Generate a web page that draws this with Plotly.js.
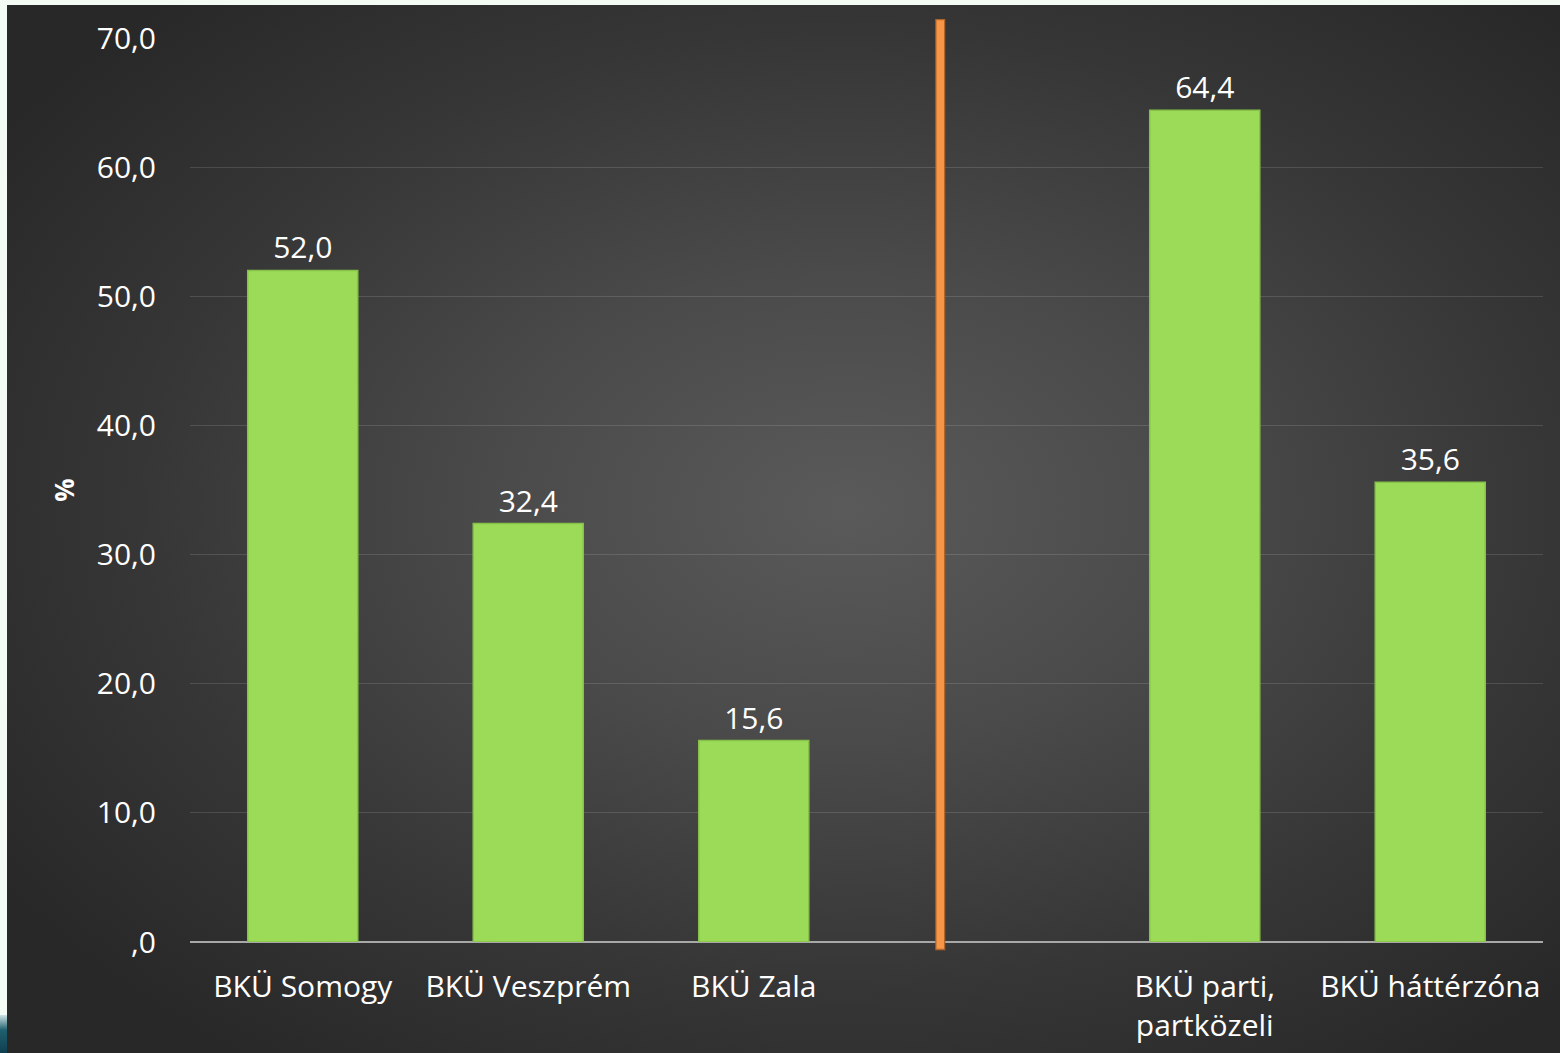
<!DOCTYPE html>
<html>
<head>
<meta charset="utf-8">
<script src="https://cdn.plot.ly/plotly-3.0.1.min.js"></script>
<style>
  html, body { margin:0; padding:0; width:1560px; height:1053px; overflow:hidden; background:#f4faf4; }
  #bg { position:absolute; left:7px; top:5px; width:1553px; height:1048px;
        background: radial-gradient(ellipse 65% 65% at 54% 48%, #5a5a5a 0%, #4a4a4a 35%, #363636 70%, #282828 100%); }
  #teal { position:absolute; left:0; top:1015px; width:7px; height:38px;
          background: linear-gradient(#cfe3e3, #1f5f6f 40%, #0f3f4f); }
  #chart { position:absolute; left:0; top:0; width:1560px; height:1053px; }
</style>
</head>
<body>
<div id="bg"></div>
<div id="teal"></div>
<div id="chart"></div>
<script>
const categories = ["BKÜ Somogy", "BKÜ Veszprém", "BKÜ Zala", " ", "BKÜ parti,<br>partközeli", "BKÜ háttérzóna"];
const values = [52.0, 32.4, 15.6, null, 64.4, 35.6];
const yTickValues = [0, 10, 20, 30, 40, 50, 60, 70];
const yTickLabels = [",0", "10,0", "20,0", "30,0", "40,0", "50,0", "60,0", "70,0"];
const yAxisTitle = "%";

const font = "'Open Sans', 'Noto Sans', sans-serif";

const trace = {
  type: 'bar',
  x: categories,
  y: values,
  marker: { color: '#9cdb58', line: { color: '#86c24a', width: 1.5 } },
  text: values.map(v => v === null ? '' : v.toFixed(1).replace('.', ',')),
  textposition: 'outside',
  textfont: { family: font, size: 30, color: '#ffffff' },
  cliponaxis: false,
  hoverinfo: 'skip'
};

const layout = {
  width: 1560, height: 1053,
  margin: { l: 190, r: 17, t: 38, b: 111 },
  paper_bgcolor: 'rgba(0,0,0,0)',
  plot_bgcolor: 'rgba(0,0,0,0)',
  bargap: 0.512,
  showlegend: false,
  font: { family: font, color: '#ffffff' },
  xaxis: {
    type: 'category',
    range: [-0.5, 5.5],
    showgrid: false,
    showline: false,
    zeroline: false,
    ticks: '',
    ticklabelstandoff: 24,
    tickfont: { family: font, size: 30, color: '#ffffff' },
    automargin: false
  },
  yaxis: {
    range: [0, 70],
    tickvals: yTickValues,
    ticktext: yTickLabels,
    tickfont: { family: font, size: 30, color: '#ffffff' },
    ticklabelstandoff: 33,
    showgrid: true,
    gridcolor: 'rgba(255,255,255,0.13)',
    gridwidth: 1,
    zeroline: true,
    zerolinecolor: '#a8a8a8',
    zerolinewidth: 2,
    showline: false,
    ticks: '',
    automargin: false,
    title: { text: '<b>' + yAxisTitle + '</b>', font: { family: font, size: 26, color: '#ffffff' }, standoff: 14 }
  },
  shapes: [
    {
      type: 'line', xref: 'paper', yref: 'paper',
      x0: 0.5545, x1: 0.5545, y0: -0.009, y1: 1.021,
      line: { color: '#b0652a', width: 10 }
    },
    {
      type: 'line', xref: 'paper', yref: 'paper',
      x0: 0.5545, x1: 0.5545, y0: -0.0075, y1: 1.0195,
      line: { color: '#f79646', width: 7.5 }
    }
  ]
};

Plotly.newPlot('chart', [trace], layout, { displayModeBar: false, staticPlot: true });
</script>
</body>
</html>
